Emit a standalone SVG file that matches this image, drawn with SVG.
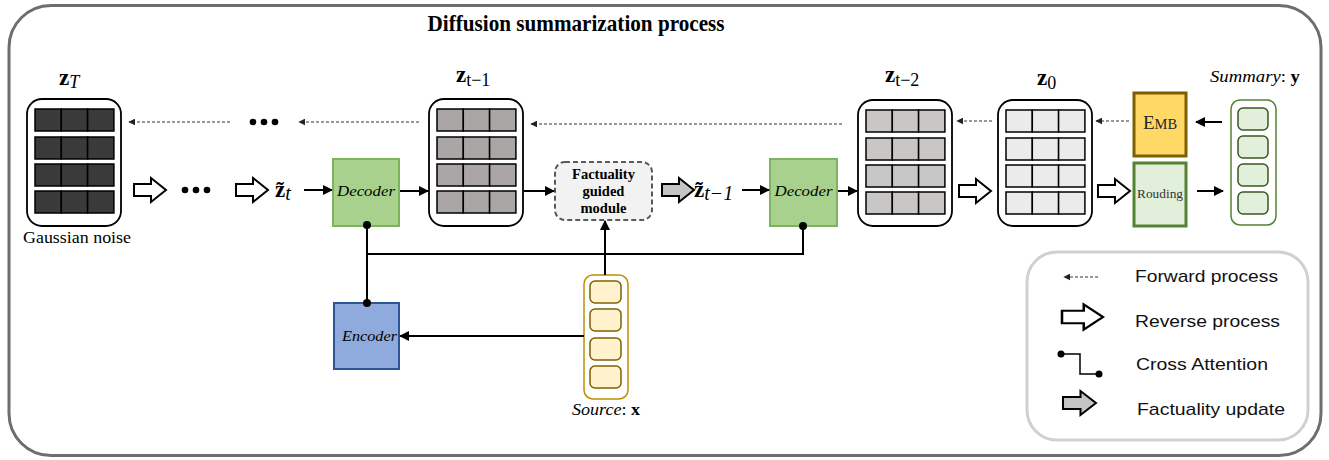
<svg xmlns="http://www.w3.org/2000/svg" xmlns:xlink="http://www.w3.org/1999/xlink" width="1329" height="460" viewBox="0 0 1329 460">
  <style>
    .serif { font-family: "Liberation Serif", "DejaVu Serif", serif; }
    .sans { font-family: "Liberation Sans", Arial, sans-serif; }
    .zb { font-family: "Liberation Serif", "DejaVu Serif", serif; font-weight: bold; font-size: 23px; }
    .sub { font-family: "Liberation Serif", "DejaVu Serif", serif; font-size: 18px; }
    .subl { font-family: "Liberation Serif", "DejaVu Serif", serif; font-size: 20px; font-style: italic; }
    .it { font-style: italic; }
    .mat { fill: #ffffff; stroke: #000000; stroke-width: 1.8; }
    .cell { stroke: #000000; stroke-width: 1.5; }
    .dash { stroke: #333333; stroke-width: 1; stroke-dasharray: 3 2; fill: none; marker-end: url(#dhead); }
    .solid { stroke: #000000; stroke-width: 2; fill: none; marker-end: url(#shead); }
    .link { stroke: #000000; stroke-width: 2; fill: none; }
    .hollow { fill: #ffffff; stroke: #000000; stroke-width: 2; }
    .grey { fill: #c4c4c4; stroke: #000000; stroke-width: 2; }
    .leg { font-family: "Liberation Sans", Arial, sans-serif; font-size: 17px; fill: #111111; }
  </style>
  <defs>
    <marker id="dhead" viewBox="0 0 10 10" refX="9" refY="5" markerWidth="7" markerHeight="7" markerUnits="userSpaceOnUse" orient="auto">
      <path d="M0,0 L10,5 L0,10 Z" fill="#222222"/>
    </marker>
    <marker id="shead" viewBox="0 0 10 10" refX="9" refY="5" markerWidth="5" markerHeight="5" orient="auto">
      <path d="M0,0 L10,5 L0,10 Z" fill="#000000"/>
    </marker>
    <!-- latent matrix: 4 rows x 3 cells, cell fill set on the <use> -->
    <symbol id="grid" overflow="visible">
      <rect class="cell" x="8" y="10" width="26.3" height="22"/>
      <rect class="cell" x="34.3" y="10" width="26.3" height="22"/>
      <rect class="cell" x="60.6" y="10" width="26.3" height="22"/>
      <rect class="cell" x="8" y="38" width="26.3" height="22"/>
      <rect class="cell" x="34.3" y="38" width="26.3" height="22"/>
      <rect class="cell" x="60.6" y="38" width="26.3" height="22"/>
      <rect class="cell" x="8" y="65" width="26.3" height="22"/>
      <rect class="cell" x="34.3" y="65" width="26.3" height="22"/>
      <rect class="cell" x="60.6" y="65" width="26.3" height="22"/>
      <rect class="cell" x="8" y="92" width="26.3" height="22"/>
      <rect class="cell" x="34.3" y="92" width="26.3" height="22"/>
      <rect class="cell" x="60.6" y="92" width="26.3" height="22"/>
    </symbol>
    <!-- block arrow, 32 wide, centred on y=0 -->
    <path id="blk" d="M0,-6 H17 V-12 L32,0 L17,12 V6 H0 Z"/>
  </defs>

  <!-- outer frame -->
  <rect x="9" y="5.5" width="1312" height="450" rx="42" fill="#ffffff" stroke="#6e6e6e" stroke-width="3"/>
  <text class="serif" x="576" y="31" font-size="23" font-weight="bold" text-anchor="middle" textLength="297" lengthAdjust="spacingAndGlyphs">Diffusion summarization process</text>

  <!-- z_T : Gaussian noise -->
  <g id="zT">
    <rect class="mat" x="27" y="99" width="94" height="127" rx="15"/>
    <use xlink:href="#grid" x="27" y="99" fill="#3a3a3a"/>
    <text x="59" y="85"><tspan class="zb">z</tspan><tspan class="sub it" dy="3">T</tspan></text>
    <text class="serif" x="77" y="243" font-size="16" text-anchor="middle" textLength="108" lengthAdjust="spacingAndGlyphs">Gaussian noise</text>
  </g>

  <!-- z_{t-1} -->
  <g id="zt1">
    <rect class="mat" x="429" y="99" width="94" height="127" rx="15"/>
    <use xlink:href="#grid" x="429" y="99" fill="#aaa6a6"/>
    <text x="456" y="82"><tspan class="zb">z</tspan><tspan class="sub" dy="4">t−1</tspan></text>
  </g>

  <!-- z_{t-2} -->
  <g id="zt2">
    <rect class="mat" x="858" y="100" width="94" height="126" rx="15"/>
    <use xlink:href="#grid" x="858" y="100" fill="#c9c6c6"/>
    <text x="885" y="82"><tspan class="zb">z</tspan><tspan class="sub" dy="4">t−2</tspan></text>
  </g>

  <!-- z_0 -->
  <g id="z0">
    <rect class="mat" x="998" y="100" width="94" height="126" rx="15"/>
    <use xlink:href="#grid" x="998" y="100" fill="#ebebeb"/>
    <text x="1037" y="85"><tspan class="zb">z</tspan><tspan class="sub" dy="4">0</tspan></text>
  </g>

  <!-- decoders and encoder -->
  <g id="decoder1">
    <rect x="333" y="159" width="66" height="67" fill="#a9d18e" stroke="#7db35c" stroke-width="2"/>
    <text class="serif it" x="366" y="196" font-size="15.5" text-anchor="middle" textLength="58" lengthAdjust="spacingAndGlyphs">Decoder</text>
  </g>
  <g id="decoder2">
    <rect x="770" y="159" width="67" height="67" fill="#a9d18e" stroke="#7db35c" stroke-width="2"/>
    <text class="serif it" x="803.5" y="196" font-size="15.5" text-anchor="middle" textLength="58" lengthAdjust="spacingAndGlyphs">Decoder</text>
  </g>
  <g id="encoder">
    <rect x="334" y="303" width="65" height="66" fill="#8faadc" stroke="#2f5597" stroke-width="2"/>
    <text class="serif it" x="369.5" y="341" font-size="15.5" text-anchor="middle" textLength="55" lengthAdjust="spacingAndGlyphs">Encoder</text>
  </g>

  <!-- factuality guided module -->
  <g id="factuality">
    <rect x="555" y="162" width="97" height="58" rx="10" fill="#f2f2f2" stroke="#595959" stroke-width="2" stroke-dasharray="5 3"/>
    <g class="serif" font-size="14.5" font-weight="bold" text-anchor="middle">
      <text x="603.5" y="179">Factuality</text>
      <text x="603.5" y="196">guided</text>
      <text x="603.5" y="213">module</text>
    </g>
  </g>

  <!-- intermediate latents -->
  <g id="zt_tilde">
    <text x="275" y="197"><tspan class="zb">z&#x303;</tspan><tspan class="subl" dy="3">t</tspan></text>
  </g>
  <g id="zt1_tilde">
    <text x="694" y="197"><tspan class="zb">z&#x303;</tspan><tspan class="subl" dy="3">t−1</tspan></text>
  </g>

  <!-- embedding and rounding -->
  <g id="emb">
    <rect x="1134" y="93" width="52" height="63" fill="#ffd966" stroke="#7f6000" stroke-width="3"/>
    <text class="serif" x="1160" y="129" text-anchor="middle" fill="#262626"><tspan font-size="19">E</tspan><tspan font-size="14.5">MB</tspan></text>
  </g>
  <g id="rounding">
    <rect x="1134" y="163" width="52" height="63" fill="#e2efda" stroke="#548235" stroke-width="3"/>
    <text class="serif" x="1160" y="198" font-size="12" text-anchor="middle" fill="#333333" textLength="46" lengthAdjust="spacingAndGlyphs">Rouding</text>
  </g>

  <!-- summary tokens -->
  <g id="summary">
    <rect x="1231" y="100" width="45" height="125" rx="9" fill="#ffffff" stroke="#548235" stroke-width="1.5"/>
    <g fill="#e2efda" stroke="#385723" stroke-width="1.5">
      <rect x="1238" y="108" width="30" height="22" rx="5"/>
      <rect x="1238" y="136" width="30" height="22" rx="5"/>
      <rect x="1238" y="164" width="30" height="22" rx="5"/>
      <rect x="1238" y="192" width="30" height="22" rx="5"/>
    </g>
    <text x="1210" y="82" class="serif" font-size="17" textLength="90" lengthAdjust="spacingAndGlyphs"><tspan class="it">Summary</tspan>: <tspan font-weight="bold">y</tspan></text>
  </g>

  <!-- source tokens -->
  <g id="source">
    <rect x="584" y="275" width="44" height="124" rx="9" fill="#ffffff" stroke="#bf9000" stroke-width="1.5"/>
    <g fill="#fff2cc" stroke="#7f6000" stroke-width="1.5">
      <rect x="590" y="281" width="31" height="22" rx="5"/>
      <rect x="590" y="309" width="31" height="22" rx="5"/>
      <rect x="590" y="338" width="31" height="22" rx="5"/>
      <rect x="590" y="366" width="31" height="22" rx="5"/>
    </g>
    <text x="572" y="415" class="serif" font-size="17" textLength="68" lengthAdjust="spacingAndGlyphs"><tspan class="it">Source</tspan>: <tspan font-weight="bold">x</tspan></text>
  </g>

  <!-- connectors -->
  <g id="connectors">
    <!-- forward (noising) process -->
    <line class="dash" x1="230" y1="122" x2="129" y2="122"/>
    <g fill="#000000">
      <circle cx="253" cy="122" r="3.3"/><circle cx="264" cy="122" r="3.3"/><circle cx="275" cy="122" r="3.3"/>
    </g>
    <line class="dash" x1="419" y1="122" x2="299" y2="122"/>
    <line class="dash" x1="842" y1="124" x2="531" y2="124"/>
    <line class="dash" x1="992" y1="121" x2="957" y2="121"/>
    <line class="dash" x1="1129" y1="121" x2="1096" y2="121"/>

    <!-- reverse process -->
    <use xlink:href="#blk" class="hollow" transform="translate(134,190)"/>
    <g fill="#000000">
      <circle cx="185" cy="190" r="3.3"/><circle cx="196" cy="190" r="3.3"/><circle cx="207" cy="190" r="3.3"/>
    </g>
    <use xlink:href="#blk" class="hollow" transform="translate(236,190)"/>
    <use xlink:href="#blk" class="hollow" transform="translate(959,191)"/>
    <use xlink:href="#blk" class="hollow" transform="translate(1098,191)"/>
    <use xlink:href="#blk" class="grey" transform="translate(662,190)"/>

    <!-- data flow -->
    <line class="solid" x1="304" y1="190" x2="332" y2="190"/>
    <line class="solid" x1="400" y1="191" x2="428" y2="191"/>
    <line class="solid" x1="524" y1="191" x2="554" y2="191"/>
    <line class="solid" x1="742" y1="190" x2="769" y2="190"/>
    <line class="solid" x1="838" y1="191" x2="857" y2="191"/>
    <line class="solid" x1="1222" y1="122" x2="1196" y2="122"/>
    <line class="solid" x1="1197" y1="191" x2="1223" y2="191"/>
    <line class="solid" x1="605" y1="275" x2="605" y2="221"/>
    <line class="solid" x1="584" y1="336" x2="400" y2="336"/>

    <!-- cross attention -->
    <path class="link" d="M367,225 V303 M367,254 H803 V226"/>
    <g fill="#000000">
      <circle cx="367" cy="225" r="4"/>
      <circle cx="367" cy="303" r="4"/>
      <circle cx="803" cy="226" r="4"/>
    </g>
  </g>

  <!-- legend -->
  <g id="legend">
    <rect x="1027" y="252" width="281" height="188" rx="30" fill="#ffffff" stroke="#d0d0d0" stroke-width="3"/>
    <line class="dash" x1="1098" y1="277" x2="1064" y2="277"/>
    <text class="leg" x="1135" y="282" textLength="143" lengthAdjust="spacingAndGlyphs">Forward process</text>
    <path d="M0,-6 H17 V-12 L32,0 L17,12 V6 H0 Z" class="hollow" transform="translate(1062,317) scale(1.28,1.05)" stroke-width="1.8"/>
    <text class="leg" x="1135" y="327" textLength="145" lengthAdjust="spacingAndGlyphs">Reverse process</text>
    <path d="M1061,354 H1080 V374 H1099" stroke="#000000" stroke-width="1.5" fill="none"/>
    <circle cx="1061" cy="354" r="3.5" fill="#000000"/>
    <circle cx="1099" cy="374" r="3.5" fill="#000000"/>
    <text class="leg" x="1136" y="370" textLength="132" lengthAdjust="spacingAndGlyphs">Cross Attention</text>
    <use xlink:href="#blk" class="grey" transform="translate(1063,403) scale(1.03,1)"/>
    <text class="leg" x="1137" y="415" textLength="148" lengthAdjust="spacingAndGlyphs">Factuality update</text>
  </g>
</svg>
